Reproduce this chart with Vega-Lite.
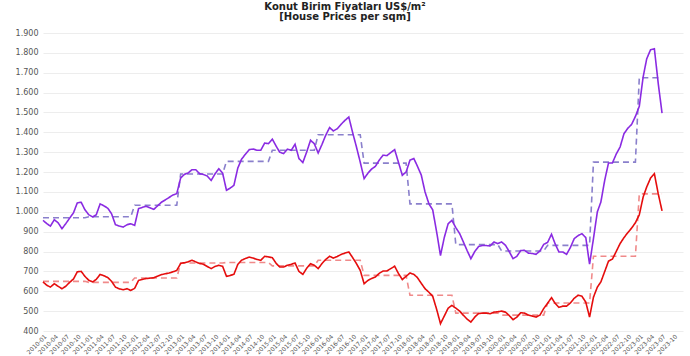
{
  "$schema": "https://vega.github.io/schema/vega-lite/v6.json",
  "autosize": "none",
  "width": 640,
  "height": 298,
  "padding": {"left": 43, "top": 33, "right": 7, "bottom": 25},
  "background": "white",
  "title": {
    "text": "Konut Birim Fiyatları US$/m²",
    "subtitle": "[House Prices per sqm]",
    "font": "DejaVu Sans", "subtitleFont": "DejaVu Sans",
    "fontSize": 10, "subtitleFontSize": 10,
    "fontWeight": "bold", "subtitleFontWeight": "bold",
    "color": "#222", "subtitleColor": "#222",
    "anchor": "middle", "dx": -18, "offset": 7, "subtitlePadding": 0
  },
  "config": {"view": {"stroke": null}},
  "data": {"values": [
    {"d":"2010-01-01","p":957,"r":647,"pa":970,"ra":650},
    {"d":"2010-02-01","p":940,"r":630,"pa":970,"ra":650},
    {"d":"2010-03-01","p":928,"r":621,"pa":970,"ra":650},
    {"d":"2010-04-01","p":960,"r":638,"pa":970,"ra":650},
    {"d":"2010-05-01","p":945,"r":625,"pa":970,"ra":650},
    {"d":"2010-06-01","p":915,"r":613,"pa":970,"ra":650},
    {"d":"2010-07-01","p":940,"r":625,"pa":970,"ra":650},
    {"d":"2010-08-01","p":968,"r":645,"pa":970,"ra":650},
    {"d":"2010-09-01","p":995,"r":662,"pa":970,"ra":650},
    {"d":"2010-10-01","p":1045,"r":698,"pa":970,"ra":650},
    {"d":"2010-11-01","p":1048,"r":700,"pa":970,"ra":650},
    {"d":"2010-12-01","p":1010,"r":675,"pa":970,"ra":650},
    {"d":"2011-01-01","p":985,"r":655,"pa":975,"ra":645},
    {"d":"2011-02-01","p":974,"r":647,"pa":975,"ra":645},
    {"d":"2011-03-01","p":985,"r":660,"pa":975,"ra":645},
    {"d":"2011-04-01","p":1040,"r":685,"pa":975,"ra":645},
    {"d":"2011-05-01","p":1030,"r":678,"pa":975,"ra":645},
    {"d":"2011-06-01","p":1018,"r":669,"pa":975,"ra":645},
    {"d":"2011-07-01","p":990,"r":650,"pa":975,"ra":645},
    {"d":"2011-08-01","p":935,"r":621,"pa":975,"ra":645},
    {"d":"2011-09-01","p":928,"r":612,"pa":975,"ra":645},
    {"d":"2011-10-01","p":923,"r":608,"pa":975,"ra":645},
    {"d":"2011-11-01","p":935,"r":613,"pa":975,"ra":645},
    {"d":"2011-12-01","p":940,"r":604,"pa":975,"ra":645},
    {"d":"2012-01-01","p":932,"r":615,"pa":1033,"ra":667},
    {"d":"2012-02-01","p":1016,"r":655,"pa":1033,"ra":667},
    {"d":"2012-03-01","p":1022,"r":660,"pa":1033,"ra":667},
    {"d":"2012-04-01","p":1028,"r":664,"pa":1033,"ra":667},
    {"d":"2012-05-01","p":1020,"r":666,"pa":1033,"ra":667},
    {"d":"2012-06-01","p":1012,"r":668,"pa":1033,"ra":667},
    {"d":"2012-07-01","p":1030,"r":676,"pa":1033,"ra":667},
    {"d":"2012-08-01","p":1048,"r":684,"pa":1033,"ra":667},
    {"d":"2012-09-01","p":1060,"r":688,"pa":1033,"ra":667},
    {"d":"2012-10-01","p":1072,"r":692,"pa":1033,"ra":667},
    {"d":"2012-11-01","p":1085,"r":698,"pa":1033,"ra":667},
    {"d":"2012-12-01","p":1091,"r":705,"pa":1033,"ra":667},
    {"d":"2013-01-01","p":1170,"r":740,"pa":1190,"ra":742},
    {"d":"2013-02-01","p":1189,"r":744,"pa":1190,"ra":742},
    {"d":"2013-03-01","p":1195,"r":748,"pa":1190,"ra":742},
    {"d":"2013-04-01","p":1212,"r":756,"pa":1190,"ra":742},
    {"d":"2013-05-01","p":1212,"r":748,"pa":1190,"ra":742},
    {"d":"2013-06-01","p":1192,"r":740,"pa":1190,"ra":742},
    {"d":"2013-07-01","p":1188,"r":736,"pa":1190,"ra":742},
    {"d":"2013-08-01","p":1180,"r":725,"pa":1190,"ra":742},
    {"d":"2013-09-01","p":1158,"r":714,"pa":1190,"ra":742},
    {"d":"2013-10-01","p":1190,"r":725,"pa":1190,"ra":742},
    {"d":"2013-11-01","p":1217,"r":731,"pa":1190,"ra":742},
    {"d":"2013-12-01","p":1195,"r":726,"pa":1190,"ra":742},
    {"d":"2014-01-01","p":1108,"r":675,"pa":1254,"ra":745},
    {"d":"2014-02-01","p":1120,"r":680,"pa":1254,"ra":745},
    {"d":"2014-03-01","p":1133,"r":685,"pa":1254,"ra":745},
    {"d":"2014-04-01","p":1220,"r":735,"pa":1254,"ra":745},
    {"d":"2014-05-01","p":1265,"r":756,"pa":1254,"ra":745},
    {"d":"2014-06-01","p":1290,"r":765,"pa":1254,"ra":745},
    {"d":"2014-07-01","p":1313,"r":772,"pa":1254,"ra":745},
    {"d":"2014-08-01","p":1316,"r":767,"pa":1254,"ra":745},
    {"d":"2014-09-01","p":1310,"r":760,"pa":1254,"ra":745},
    {"d":"2014-10-01","p":1310,"r":756,"pa":1254,"ra":745},
    {"d":"2014-11-01","p":1346,"r":776,"pa":1254,"ra":745},
    {"d":"2014-12-01","p":1343,"r":773,"pa":1254,"ra":745},
    {"d":"2015-01-01","p":1366,"r":769,"pa":1310,"ra":728},
    {"d":"2015-02-01","p":1330,"r":740,"pa":1310,"ra":728},
    {"d":"2015-03-01","p":1300,"r":722,"pa":1310,"ra":728},
    {"d":"2015-04-01","p":1293,"r":722,"pa":1310,"ra":728},
    {"d":"2015-05-01","p":1315,"r":731,"pa":1310,"ra":728},
    {"d":"2015-06-01","p":1310,"r":736,"pa":1310,"ra":728},
    {"d":"2015-07-01","p":1340,"r":742,"pa":1310,"ra":728},
    {"d":"2015-08-01","p":1268,"r":700,"pa":1310,"ra":728},
    {"d":"2015-09-01","p":1248,"r":685,"pa":1310,"ra":728},
    {"d":"2015-10-01","p":1300,"r":715,"pa":1310,"ra":728},
    {"d":"2015-11-01","p":1360,"r":739,"pa":1310,"ra":728},
    {"d":"2015-12-01","p":1343,"r":731,"pa":1310,"ra":728},
    {"d":"2016-01-01","p":1296,"r":714,"pa":1388,"ra":756},
    {"d":"2016-02-01","p":1340,"r":740,"pa":1388,"ra":756},
    {"d":"2016-03-01","p":1385,"r":760,"pa":1388,"ra":756},
    {"d":"2016-04-01","p":1424,"r":776,"pa":1388,"ra":756},
    {"d":"2016-05-01","p":1407,"r":767,"pa":1388,"ra":756},
    {"d":"2016-06-01","p":1418,"r":775,"pa":1388,"ra":756},
    {"d":"2016-07-01","p":1440,"r":785,"pa":1388,"ra":756},
    {"d":"2016-08-01","p":1460,"r":792,"pa":1388,"ra":756},
    {"d":"2016-09-01","p":1477,"r":798,"pa":1388,"ra":756},
    {"d":"2016-10-01","p":1400,"r":770,"pa":1388,"ra":756},
    {"d":"2016-11-01","p":1326,"r":739,"pa":1388,"ra":756},
    {"d":"2016-12-01","p":1250,"r":705,"pa":1388,"ra":756},
    {"d":"2017-01-01","p":1167,"r":638,"pa":1245,"ra":680},
    {"d":"2017-02-01","p":1195,"r":655,"pa":1245,"ra":680},
    {"d":"2017-03-01","p":1215,"r":664,"pa":1245,"ra":680},
    {"d":"2017-04-01","p":1229,"r":672,"pa":1245,"ra":680},
    {"d":"2017-05-01","p":1260,"r":690,"pa":1245,"ra":680},
    {"d":"2017-06-01","p":1285,"r":702,"pa":1245,"ra":680},
    {"d":"2017-07-01","p":1283,"r":702,"pa":1245,"ra":680},
    {"d":"2017-08-01","p":1298,"r":714,"pa":1245,"ra":680},
    {"d":"2017-09-01","p":1313,"r":726,"pa":1245,"ra":680},
    {"d":"2017-10-01","p":1250,"r":690,"pa":1245,"ra":680},
    {"d":"2017-11-01","p":1184,"r":659,"pa":1245,"ra":680},
    {"d":"2017-12-01","p":1200,"r":675,"pa":1245,"ra":680},
    {"d":"2018-01-01","p":1260,"r":692,"pa":1040,"ra":580},
    {"d":"2018-02-01","p":1268,"r":685,"pa":1040,"ra":580},
    {"d":"2018-03-01","p":1230,"r":669,"pa":1040,"ra":580},
    {"d":"2018-04-01","p":1185,"r":640,"pa":1040,"ra":580},
    {"d":"2018-05-01","p":1100,"r":613,"pa":1040,"ra":580},
    {"d":"2018-06-01","p":1040,"r":595,"pa":1040,"ra":580},
    {"d":"2018-07-01","p":1010,"r":575,"pa":1040,"ra":580},
    {"d":"2018-08-01","p":900,"r":510,"pa":1040,"ra":580},
    {"d":"2018-09-01","p":780,"r":437,"pa":1040,"ra":580},
    {"d":"2018-10-01","p":870,"r":475,"pa":1040,"ra":580},
    {"d":"2018-11-01","p":940,"r":515,"pa":1040,"ra":580},
    {"d":"2018-12-01","p":957,"r":529,"pa":1040,"ra":580},
    {"d":"2019-01-01","p":920,"r":515,"pa":835,"ra":490},
    {"d":"2019-02-01","p":890,"r":500,"pa":835,"ra":490},
    {"d":"2019-03-01","p":850,"r":480,"pa":835,"ra":490},
    {"d":"2019-04-01","p":805,"r":460,"pa":835,"ra":490},
    {"d":"2019-05-01","p":764,"r":445,"pa":835,"ra":490},
    {"d":"2019-06-01","p":800,"r":470,"pa":835,"ra":490},
    {"d":"2019-07-01","p":825,"r":488,"pa":835,"ra":490},
    {"d":"2019-08-01","p":830,"r":490,"pa":835,"ra":490},
    {"d":"2019-09-01","p":830,"r":490,"pa":835,"ra":490},
    {"d":"2019-10-01","p":828,"r":487,"pa":835,"ra":490},
    {"d":"2019-11-01","p":848,"r":495,"pa":835,"ra":490},
    {"d":"2019-12-01","p":840,"r":497,"pa":835,"ra":490},
    {"d":"2020-01-01","p":848,"r":500,"pa":803,"ra":480},
    {"d":"2020-02-01","p":831,"r":495,"pa":803,"ra":480},
    {"d":"2020-03-01","p":800,"r":478,"pa":803,"ra":480},
    {"d":"2020-04-01","p":764,"r":457,"pa":803,"ra":480},
    {"d":"2020-05-01","p":776,"r":470,"pa":803,"ra":480},
    {"d":"2020-06-01","p":805,"r":492,"pa":803,"ra":480},
    {"d":"2020-07-01","p":806,"r":490,"pa":803,"ra":480},
    {"d":"2020-08-01","p":792,"r":480,"pa":803,"ra":480},
    {"d":"2020-09-01","p":790,"r":475,"pa":803,"ra":480},
    {"d":"2020-10-01","p":786,"r":470,"pa":803,"ra":480},
    {"d":"2020-11-01","p":803,"r":480,"pa":803,"ra":480},
    {"d":"2020-12-01","p":836,"r":513,"pa":803,"ra":480},
    {"d":"2021-01-01","p":846,"r":540,"pa":831,"ra":541},
    {"d":"2021-02-01","p":887,"r":568,"pa":831,"ra":541},
    {"d":"2021-03-01","p":840,"r":540,"pa":831,"ra":541},
    {"d":"2021-04-01","p":798,"r":519,"pa":831,"ra":541},
    {"d":"2021-05-01","p":798,"r":525,"pa":831,"ra":541},
    {"d":"2021-06-01","p":786,"r":525,"pa":831,"ra":541},
    {"d":"2021-07-01","p":820,"r":541,"pa":831,"ra":541},
    {"d":"2021-08-01","p":865,"r":565,"pa":831,"ra":541},
    {"d":"2021-09-01","p":880,"r":580,"pa":831,"ra":541},
    {"d":"2021-10-01","p":890,"r":575,"pa":831,"ra":541},
    {"d":"2021-11-01","p":870,"r":545,"pa":831,"ra":541},
    {"d":"2021-12-01","p":736,"r":470,"pa":831,"ra":541},
    {"d":"2022-01-01","p":865,"r":570,"pa":1250,"ra":776},
    {"d":"2022-02-01","p":1000,"r":621,"pa":1250,"ra":776},
    {"d":"2022-03-01","p":1049,"r":647,"pa":1250,"ra":776},
    {"d":"2022-04-01","p":1160,"r":700,"pa":1250,"ra":776},
    {"d":"2022-05-01","p":1246,"r":752,"pa":1250,"ra":776},
    {"d":"2022-06-01","p":1246,"r":762,"pa":1250,"ra":776},
    {"d":"2022-07-01","p":1290,"r":800,"pa":1250,"ra":776},
    {"d":"2022-08-01","p":1326,"r":840,"pa":1250,"ra":776},
    {"d":"2022-09-01","p":1393,"r":870,"pa":1250,"ra":776},
    {"d":"2022-10-01","p":1420,"r":895,"pa":1250,"ra":776},
    {"d":"2022-11-01","p":1440,"r":918,"pa":1250,"ra":776},
    {"d":"2022-12-01","p":1480,"r":945,"pa":1250,"ra":776},
    {"d":"2023-01-01","p":1531,"r":985,"pa":1675,"ra":1090},
    {"d":"2023-02-01","p":1680,"r":1075,"pa":1675,"ra":1090},
    {"d":"2023-03-01","p":1770,"r":1125,"pa":1675,"ra":1090},
    {"d":"2023-04-01","p":1816,"r":1170,"pa":1675,"ra":1090},
    {"d":"2023-05-01","p":1821,"r":1192,"pa":1675,"ra":1090},
    {"d":"2023-06-01","p":1645,"r":1090,"pa":1675,"ra":1090},
    {"d":"2023-07-01","p":1497,"r":1005,"pa":1675,"ra":1090}
  ]},
  "transform": [{"fold": ["pa", "ra", "p", "r"], "as": ["k", "v"]}],
  "mark": {"type": "line", "strokeWidth": 1.6},
  "encoding": {
    "x": {
      "field": "d", "type": "temporal", "title": null,
      "scale": {"type": "utc", "domain": [{"year": 2010, "month": 1, "date": 1, "utc": true}, {"year": 2023, "month": 12, "date": 15, "utc": true}]},
      "axis": {
        "format": "%Y-%m", "tickCount": {"interval": "month", "step": 3},
        "labelAngle": -45, "labelFontSize": 6, "labelFont": "DejaVu Sans", "labelColor": "#555",
        "labelOverlap": false, "labelBound": false, "labelFlush": false, "labelPadding": 2,
        "grid": false, "domain": false, "ticks": false
      }
    },
    "y": {
      "field": "v", "type": "quantitative", "title": null,
      "scale": {"domain": [400, 1900], "nice": false, "zero": false},
      "axis": {
        "values": [400, 500, 600, 700, 800, 900, 1000, 1100, 1200, 1300, 1400, 1500, 1600, 1700, 1800, 1900],
        "labelExpr": "replace(format(datum.value, ','), ',', '.')",
        "labelOverlap": false, "labelBound": false, "labelFlush": false,
        "labelFontSize": 8, "labelFont": "DejaVu Sans", "labelColor": "#555", "labelPadding": 5,
        "grid": true, "gridColor": "#ededed", "domain": false, "ticks": false
      }
    },
    "color": {
      "field": "k", "type": "nominal", "legend": null,
      "scale": {"domain": ["pa", "ra", "p", "r"], "range": ["#8a80cc", "#f08a8a", "#8a2be2", "#e50d0d"]}
    },
    "strokeDash": {
      "field": "k", "type": "nominal", "legend": null,
      "scale": {"domain": ["pa", "ra", "p", "r"], "range": [[6, 4], [6, 4], [1, 0], [1, 0]]}
    },
    "order": {"field": "d", "type": "temporal"}
  }
}
